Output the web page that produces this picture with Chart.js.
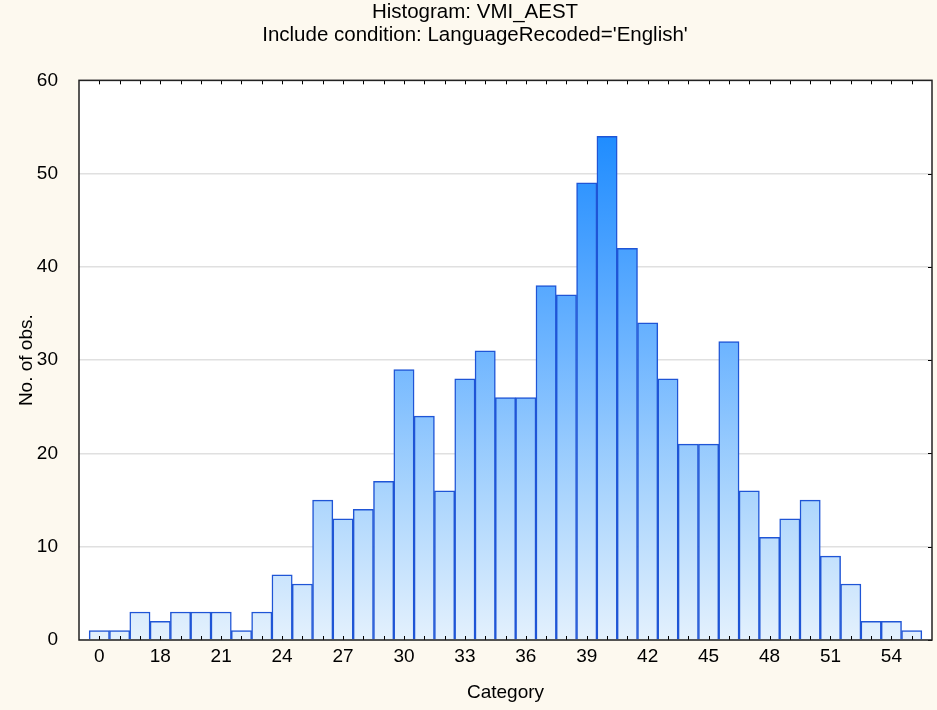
<!DOCTYPE html>
<html>
<head>
<meta charset="utf-8">
<script src="https://cdn.jsdelivr.net/npm/chart.js@4"></script>
<style>
  html, body { margin: 0; padding: 0; background: #fdf9ef; }
  #wrap { width: 937px; height: 710px; }
</style>
</head>
<body>
<div id="wrap"><canvas id="histChart" width="937" height="710"></canvas></div>
<script>
// categories of the histogram (first bin is 0, then 16..55)
const categories = ['0', '16', '17', '18', '19', '20', '21', '22', '23', '24', '25',
    '26', '27', '28', '29', '30', '31', '32', '33', '34', '35', '36', '37', '38', '39',
    '40', '41', '42', '43', '44', '45', '46', '47', '48', '49', '50', '51', '52', '53',
    '54', '55'];
const counts = [1, 1, 3, 2, 3, 3, 3, 1, 3, 7, 6, 15, 13, 14, 17, 29, 24, 16, 28, 31,
    26, 26, 38, 37, 49, 54, 42, 34, 28, 21, 21, 32, 16, 11, 13, 15, 9, 6, 2, 2, 1];
const titleLines = ['Histogram: VMI_AEST', "Include condition: LanguageRecoded='English'"];
const yTicks = [0, 10, 20, 30, 40, 50, 60];

const FONT = 'Arial, "Liberation Sans", sans-serif';

// white plot area, box frame and small inward tick marks
const frame = {
    id: 'frame',
    beforeDraw(chart) {
        const { ctx, chartArea: a } = chart;
        ctx.save();
        ctx.fillStyle = '#ffffff';
        ctx.fillRect(a.left, a.top, a.right - a.left, a.bottom - a.top);
        ctx.restore();
    },
    afterDatasetsDraw(chart) {
        const { ctx, chartArea: a, scales } = chart;
        ctx.save();
        ctx.strokeStyle = '#000000';
        ctx.lineWidth = 1;
        ctx.beginPath();
        categories.forEach((c, i) => {
            const x = Math.round(scales.x.getPixelForValue(i)) + 0.5;
            ctx.moveTo(x, a.bottom);
            ctx.lineTo(x, a.bottom - 4);
            ctx.moveTo(x, a.top);
            ctx.lineTo(x, a.top + 4);
        });
        yTicks.forEach(v => {
            const y = Math.round(scales.y.getPixelForValue(v)) + 0.5;
            ctx.moveTo(a.right, y);
            ctx.lineTo(a.right - 4, y);
        });
        ctx.stroke();
        ctx.strokeStyle = '#222222';
        ctx.lineWidth = 1.5;
        ctx.strokeRect(a.left, a.top, a.right - a.left, a.bottom - a.top);
        ctx.restore();
    }
};

function barFill(context) {
    const chart = context.chart;
    const { chartArea, scales } = chart;
    if (!chartArea) return '#80befe';
    const y0 = scales.y.getPixelForValue(0);
    const y1 = scales.y.getPixelForValue(55);
    const g = chart.ctx.createLinearGradient(0, y0, 0, y1);
    g.addColorStop(0, '#e4f1fd');
    g.addColorStop(0.29, '#a9d4fd');
    g.addColorStop(0.56, '#70b6ff');
    g.addColorStop(0.78, '#459fff');
    g.addColorStop(1, '#1c8bff');
    return g;
}

new Chart(document.getElementById('histChart'), {
    type: 'bar',
    data: {
        datasets: [{
            label: 'No. of obs.',
            data: counts.map((c, i) => ({ x: i, y: c })),
            backgroundColor: barFill,
            borderColor: '#1f55d6',
            borderWidth: 1.5,
            barPercentage: 1,
            categoryPercentage: 1
        }]
    },
    plugins: [frame],
    options: {
        responsive: false,
        animation: false,
        layout: { padding: { left: 15, right: 2, top: 1, bottom: 6 } },
        plugins: {
            legend: { display: false },
            tooltip: { enabled: false },
            title: {
                display: true,
                text: titleLines,
                color: '#000',
                font: { family: FONT, size: 20.5, weight: 'normal', lineHeight: 1.13 },
                padding: { top: 0, bottom: 33 }
            }
        },
        scales: {
            x: {
                type: 'linear',
                min: -1,
                max: categories.length,
                offset: false,
                grid: { display: false, drawTicks: false },
                border: { display: false },
                ticks: {
                    stepSize: 1,
                    autoSkip: false,
                    maxRotation: 0,
                    padding: 5,
                    color: '#000',
                    font: { family: FONT, size: 19 },
                    callback: v => (v >= 0 && v < categories.length && v % 3 === 0 ? categories[v] : '')
                },
                title: {
                    display: true,
                    text: 'Category',
                    color: '#000',
                    font: { family: FONT, size: 19 },
                    padding: { top: 5, bottom: 0 }
                },
                afterFit: s => { s.height = 64; }
            },
            y: {
                min: 0,
                max: 60,
                grid: { color: '#e0e0e0', lineWidth: 1.5, drawTicks: false },
                border: { display: false },
                ticks: {
                    stepSize: 10,
                    padding: 21,
                    color: '#000',
                    font: { family: FONT, size: 19 }
                },
                title: {
                    display: true,
                    text: 'No. of obs.',
                    color: '#000',
                    font: { family: FONT, size: 19 },
                    padding: { top: 0, bottom: 0 }
                },
                afterFit: s => { s.width = 64; }
            }
        }
    }
});
</script>
</body>
</html>
